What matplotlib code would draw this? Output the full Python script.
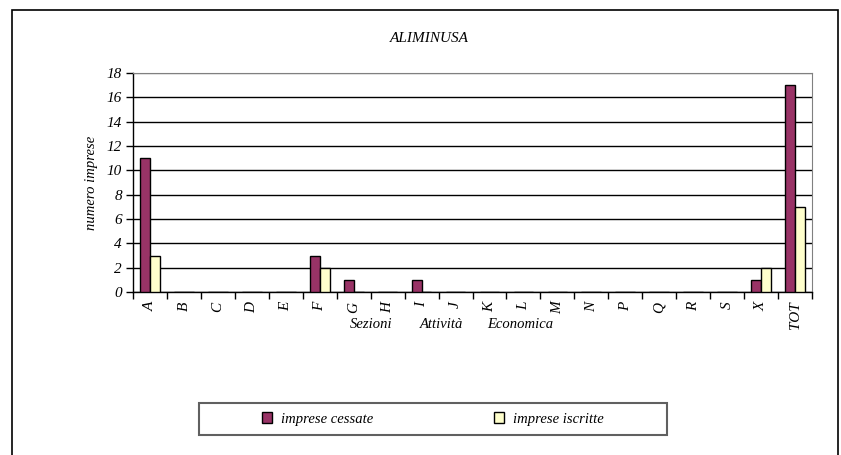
import matplotlib
matplotlib.use('Agg')
import matplotlib.pyplot as plt
import numpy as np
from matplotlib.patches import Rectangle

categories = ['A', 'B', 'C', 'D', 'E', 'F', 'G', 'H', 'I', 'J',
              'K', 'L', 'M', 'N', 'P', 'Q', 'R', 'S', 'X', 'TOT']
cessate = [11, 0, 0, 0, 0, 3, 1, 0, 1, 0, 0, 0, 0, 0, 0, 0, 0, 0, 1, 17]
iscritte = [3, 0, 0, 0, 0, 2, 0, 0, 0, 0, 0, 0, 0, 0, 0, 0, 0, 0, 2, 7]
yticks_vals = np.arange(0, 19, 2)

W, H = 841, 455
plt.rcParams['font.family'] = 'Liberation Serif'
plt.rcParams['font.style'] = 'italic'

fig = plt.figure(figsize=(W / 100, H / 100), dpi=100)
ax = fig.add_axes([133 / W, 1 - 292 / H, (812 - 133) / W, (292 - 73) / H])

x = np.arange(len(categories))
bw = 0.29
ax.bar(x - bw / 2, cessate, bw, color='#993366', edgecolor='black', linewidth=1, zorder=3,
       label='imprese cessate')
ax.bar(x + bw / 2, iscritte, bw, color='#FFFFCC', edgecolor='black', linewidth=1, zorder=3,
       label='imprese iscritte')

ax.set_xlim(-0.5, len(categories) - 0.5)
ax.set_ylim(0, 18)
ax.set_yticks(yticks_vals)
ax.set_yticklabels([str(v) for v in yticks_vals], fontsize=11)
ax.set_xticks(x)
ax.set_xticklabels(categories, rotation=90, fontsize=11)
ax.tick_params(axis='x', which='major', length=0, pad=7)
ax.set_xticks(np.arange(-0.5, len(categories), 1), minor=True)
ax.tick_params(axis='x', which='minor', length=5, width=1, direction='out')
ax.tick_params(axis='y', length=5, width=1, direction='out', pad=3)

ax.yaxis.grid(True, color='black', linewidth=1, zorder=0)
ax.set_axisbelow(True)
ax.get_ygridlines()[-1].set_color('#808080')
for s in ['top', 'right']:
    ax.spines[s].set_color('#808080')
for s in ['left', 'bottom']:
    ax.spines[s].set_color('black')
    ax.spines[s].set_linewidth(1)

ax.set_ylabel('numero imprese', fontsize=10.5, labelpad=6)

# title and axis title pieces (figure pixel coordinates)
fig.text(429 / W, 1 - 38 / H, 'ALIMINUSA', ha='center', va='center', fontsize=11)
fig.text(371 / W, 1 - 325 / H, 'Sezioni', ha='center', va='center', fontsize=10.5)
fig.text(441 / W, 1 - 325 / H, 'Attività', ha='center', va='center', fontsize=10.5)
fig.text(520 / W, 1 - 325 / H, 'Economica', ha='center', va='center', fontsize=10.5)

# outer chart frame
fig.patches.append(Rectangle((12 / W, -0.1), (838 - 12) / W, 1.1 - 10 / H,
                             transform=fig.transFigure, fill=False,
                             edgecolor='black', linewidth=1.2))
# legend box
fig.patches.append(Rectangle((199 / W, 1 - 435 / H), (667 - 199) / W, 32 / H,
                             transform=fig.transFigure, fill=False,
                             edgecolor='#606060', linewidth=1.5))
fig.legend(loc='center', bbox_to_anchor=(433 / W, 1 - 419 / H), ncol=2,
           frameon=False, fontsize=10.5, handlelength=0.7, handleheight=0.7,
           handletextpad=0.6, columnspacing=8.3)

fig.savefig('out.png', dpi=100)
